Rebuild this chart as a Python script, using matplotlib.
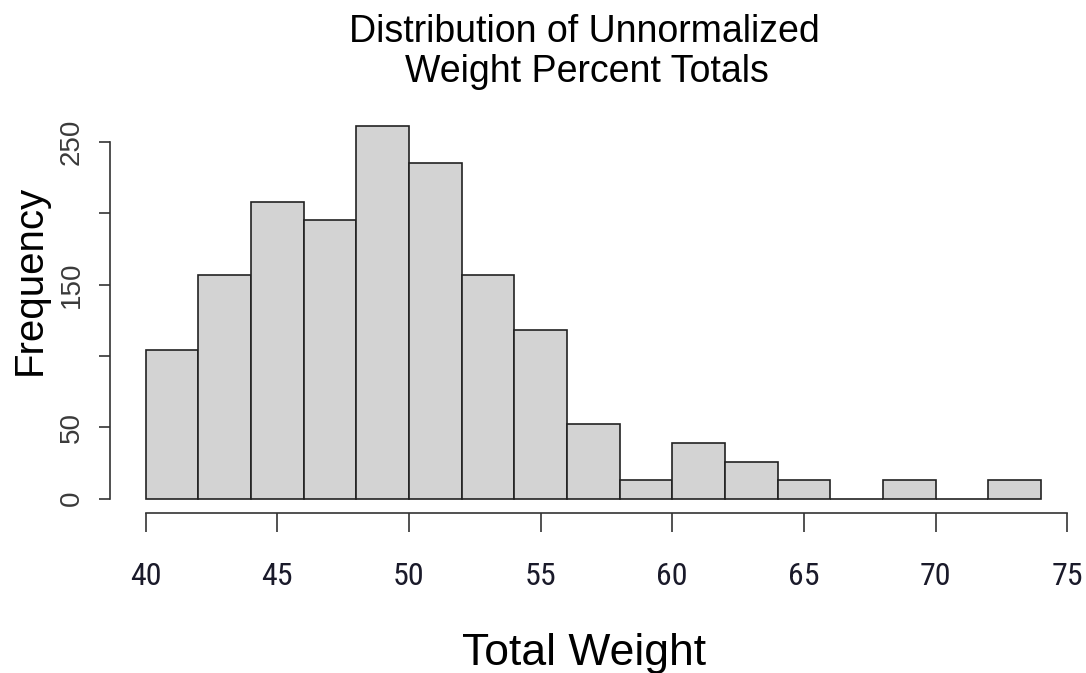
import matplotlib
matplotlib.use("Agg")
import matplotlib.pyplot as plt

# histogram counts, bins of width 2 from 40 to 74
bin_edges = [40, 42, 44, 46, 48, 50, 52, 54, 56, 58, 60, 62, 64, 66, 68, 70, 72, 74]
counts = [104, 157, 208, 195, 261, 235, 157, 118, 52, 13, 39, 26, 13, 0, 13, 0, 13]
x_ticks = [40, 45, 50, 55, 60, 65, 70, 75]
y_ticks = [0, 50, 100, 150, 200, 250]
y_tick_labels = ["0", "50", "", "150", "", "250"]

SANS = ["Liberation Sans", "DejaVu Sans"]
NARROW = ["Roboto Condensed", "Sofia Sans Condensed", "Liberation Sans", "DejaVu Sans"]

fig = plt.figure(figsize=(10.86, 6.73), dpi=100)
ax = fig.add_axes([0.1012, 0.237, 0.8902, 0.5975])

lefts = bin_edges[:-1]
widths = [b - a for a, b in zip(bin_edges[:-1], bin_edges[1:])]
ax.bar(lefts, counts, width=widths, align="edge", color="#d3d3d3",
       edgecolor="#222222", linewidth=1.2)

# R pads the plot region by 4% each side
xr = bin_edges[-1] - bin_edges[0]
ax.set_xlim(bin_edges[0] - 0.04 * xr, bin_edges[-1] + 0.04 * xr)
yr = max(counts)
ax.set_ylim(-0.04 * yr, yr * 1.04)

for s in ("top", "right"):
    ax.spines[s].set_visible(False)
ax.spines["left"].set_bounds(0, 250)
ax.spines["bottom"].set_bounds(40, 75)
for s in ("left", "bottom"):
    ax.spines[s].set_color("#333333")
    ax.spines[s].set_linewidth(1.2)

ax.set_yticks(y_ticks)
ax.set_yticklabels(y_tick_labels, rotation=90, va="center", family=SANS,
                   fontsize=20, color="#3a3a3a")
ax.tick_params(axis="y", length=8, width=1.2, color="#333333", pad=10)

ax.set_xticks(x_ticks)
ax.set_xticklabels([str(t) for t in x_ticks], family=NARROW, fontsize=23,
                   color="#1a1a2a")
ax.tick_params(axis="x", length=14, width=1.2, color="#333333", pad=21)

fig.text(0.538, 1 - 42 / 673, "Distribution of Unnormalized", ha="center",
         va="baseline", fontsize=27, family=SANS)
fig.text(0.54, 1 - 82 / 673, "Weight Percent Totals", ha="center",
         va="baseline", fontsize=27, family=SANS)
fig.text(0.538, 1 - 665 / 673, "Total Weight", ha="center", va="baseline",
         fontsize=32, family=SANS)
fig.text(0.0276, 0.584, "Frequency", ha="center", va="center", rotation=90,
         fontsize=29, family=SANS)

fig.savefig("out.png", dpi=100, facecolor="white")
